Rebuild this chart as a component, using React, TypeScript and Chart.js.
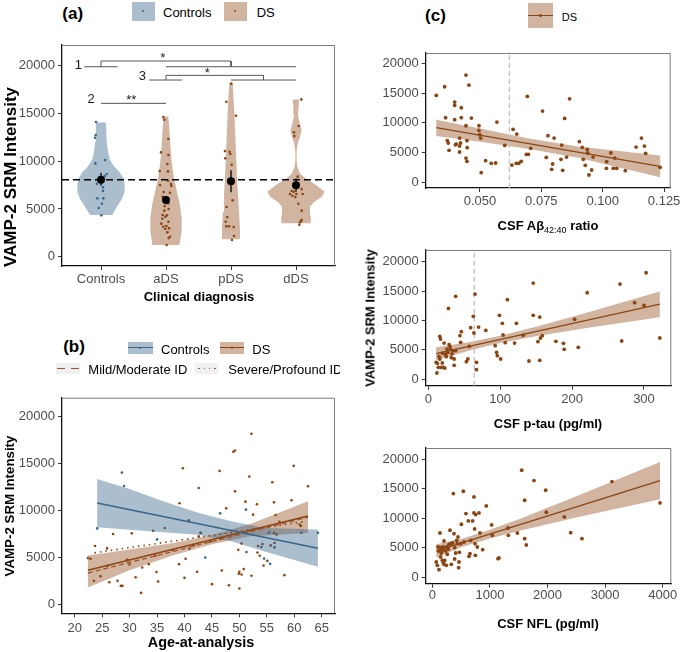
import React, { useEffect, useRef } from 'react';
import { Chart, registerables } from 'chart.js';
Chart.register(...registerables);

type P = [number, number];
const FONT = "'Liberation Sans', Arial, Helvetica, sans-serif";
const BLUE = '#36648B';
const BROWN = '#8B4513';
const BLUE_FILL = 'rgba(54,100,139,0.42)';
const BROWN_FILL = 'rgba(139,69,19,0.40)';

// ---------------- data ----------------
const DIAGNOSIS = ['Controls', 'aDS', 'pDS', 'dDS'];
const VAMP_TICKS = [0, 5000, 10000, 15000, 20000];
const CONTROL_REFERENCE = 8060;

// panel (a) jittered points [group position, intensity]
const A_CONTROLS: P[] = [[0.923,14100],[0.918,12740],[0.908,12460],[0.913,9770],[1.062,10120],[1.087,8660],[1.056,8450],[0.938,7640],[1.031,7260],[1.031,6880],[0.944,6110],[1.036,6110],[0.964,5100],[1.005,4330],[1.015,5550],[0.985,7850]];
const A_ADS: P[] = [[1.959,14620],[1.974,14340],[2.036,12320],[1.923,10920],[2.036,10640],[2.021,9700],[1.903,8970],[2.031,8930],[2.031,7960],[2.077,7610],[1.908,7500],[2.082,7400],[1.964,6770],[2.062,6700],[1.949,6280],[2.01,6000],[2.036,5580],[1.979,5300],[2.041,4990],[1.974,4820],[1.949,4360],[2.015,4330],[1.99,4190],[1.944,3980],[2.036,3660],[1.928,3460],[2.005,3210],[1.959,3140],[1.99,2900],[2.046,2970],[2.021,2550],[2.062,2090],[2.041,1950],[2.01,1220]];
const A_PDS: P[] = [[3.004,18110],[2.928,16230],[3.077,14760],[2.907,11060],[2.979,10990],[2.989,10750],[2.912,10300],[3.01,9630],[3.025,5900],[2.933,5200],[2.943,4150],[2.918,3660],[2.928,3180],[2.969,3180],[3.041,3110],[3.046,2160],[3.015,1750]];
const A_DDS: P[] = [[4.082,16470],[4.041,13680],[3.969,13020],[3.974,12630],[4.026,8380],[4.087,7080],[3.964,6810],[3.933,6880],[3.908,6560],[4.005,6560],[4.103,6560],[3.944,6390],[3.99,6250],[4.036,5550],[4.087,4820],[4.087,3840],[4.077,3730],[4.062,3600],[4.051,3350]];

// violin outlines [intensity, half width in group units], top to bottom
const VIOLIN_CONTROLS: P[] = [[14065,0.077],[13088,0.082],[12040,0.092],[10994,0.108],[10121,0.138],[9423,0.205],[8900,0.282],[8202,0.344],[7503,0.364],[6806,0.364],[6108,0.328],[5410,0.262],[4712,0.2],[4362,0.169]];
const VIOLIN_ADS: P[] = [[14690,0.036],[13437,0.051],[11692,0.067],[9947,0.087],[8202,0.123],[6806,0.169],[5410,0.215],[4014,0.241],[2618,0.241],[1571,0.215],[1222,0.205]];
const VIOLIN_PDS: P[] = [[18253,0.026],[16927,0.036],[15182,0.051],[11692,0.072],[8202,0.092],[6457,0.108],[4712,0.123],[2967,0.138],[1815,0.138]];
const VIOLIN_DDS: P[] = [[16473,0.051],[15705,0.041],[14833,0.031],[13960,0.056],[13262,0.087],[12564,0.062],[11866,0.026],[10994,0.01],[10121,0.01],[9423,0.021],[8725,0.062],[8202,0.144],[7503,0.308],[6806,0.441],[6282,0.4],[5759,0.282],[5235,0.215],[4537,0.215],[4014,0.231],[3490,0.221]];

// group means with error bars
const MEAN_POS = [1, 2, 3, 4];
const MEAN_VAL = [8060, 5930, 7890, 7470];
const MEAN_LO = [7430, 5500, 6740, 6800];
const MEAN_HI = [8790, 6350, 9040, 8200];

// significance brackets
const BRACKETS: P[][] = [
  [[0.743,19890],[1.256,19890]],
  [[2,19890],[4,19890]],
  [[1,19890],[1,20490],[3,20490],[3,19890]],
  [[1.743,18500],[2.246,18500]],
  [[3,18500],[4,18500]],
  [[2,18500],[2,18990],[3.5,18990],[3.5,18500]],
  [[1,16060],[2,16060]],
];
const SIG_TEXT = ['1', '2', '3', '*', '*', '**'];
const SIG_X = [0.651, 0.849, 1.635, 1.95, 2.635, 1.466];
const SIG_Y = [20000, 16510, 18920, 20800, 19230, 16400];

// panel (b) [age, intensity]
const AGE_TICKS = [20, 25, 30, 35, 40, 45, 50, 55, 60, 65];
const B_CONTROLS: P[] = [[28.6,14030],[29.0,12610],[42.6,12400],[24.1,8100],[35.0,6930],[42.9,7640],[51.2,10090],[46.5,9700],[61.3,7640],[64.3,7640],[55.4,7670],[54.0,6110],[56.4,6080],[51.3,5580],[54.5,4900],[55.6,4330],[43.8,5010]];
const B_DS: P[] = [[39.7,14500],[39.1,10770],[40.8,8950],[27.0,7500],[30.4,7570],[34.3,7850],[36.4,8140],[42.6,7250],[23.7,6220],[25.9,5970],[22.4,4940],[22.9,4870],[26.0,4120],[29.7,4730],[30.0,4260],[33.5,4300],[32.3,3940],[39.0,4300],[40.2,4870],[23.5,2520],[24.7,3020],[26.3,2380],[27.8,2520],[28.4,1990],[28.7,1990],[31.1,2910],[32.1,1240],[34.9,3450],[35.2,2450],[40.0,2840],[42.3,3480],[40.9,5930],
  [52.2,18160],[48.9,16240],[49.2,16380],[46.4,14210],[51.8,13610],[59.9,14750],[62.5,12580],[49.2,12040],[56.0,13000],[51.1,10940],[53.2,10660],[56.3,10870],[59.5,11090],[47.6,10230],[52.5,9560],[56.6,9520],[57.3,8810],[61.2,8350],[56.3,7600],[56.8,7460],[43.0,7600],[50.4,6500],[54.2,6430],[53.4,6220],[55.7,6290],[56.4,6540],[49.8,5830],[53.3,5540],[53.7,5190],[55.1,4650],[54.4,4160],[46.8,3620],[50.8,3770],[50.0,3480],[49.9,3270],[50.4,3200],[52.2,3060],[58.2,3130],[45.0,2170],[48.1,2060],[50.0,1710],
  [29.5,4750],[34.7,5200],[37.8,5800],[41.7,6300],[44.7,6700],[46.5,7000],[61.0,8500]];
const B_FIT_CONTROLS: P[] = [[24.1,10800],[64.3,5990]];
const B_BAND_CONTROLS_X = [24.1, 30, 36, 42.5, 48.5, 54.6, 64.3];
const B_BAND_CONTROLS_HI = [13360, 12280, 11000, 9750, 8850, 8140, 7990];
const B_BAND_CONTROLS_LO = [8210, 7960, 7700, 7430, 6720, 5650, 4010];
const B_FIT_DS: P[] = [[22.4,3650],[62.5,9420]];
const B_BAND_DS_X = [22.4, 30, 38, 45, 52, 62.5];
const B_BAND_DS_HI = [5220, 5850, 6550, 7400, 8560, 10980];
const B_BAND_DS_LO = [1810, 3640, 5240, 6400, 7260, 7600];
const B_FIT_MILD: P[] = [[22.4,3350],[62.5,9300]];
const B_FIT_SEVERE: P[] = [[23.6,5500],[62.2,8850]];

// panel (c) [biomarker, intensity]
const ABETA_TICKS = [0.05, 0.075, 0.1, 0.125];
const ABETA_CUTOFF = 0.062;
const C_ABETA: P[] = [[0.0322,14640],[0.0356,16100],[0.036,10870],[0.0367,6980],[0.0371,6590],[0.0374,5350],[0.0397,13510],[0.0397,12950],[0.0397,10530],[0.04,6300],[0.0404,6420],[0.0417,7430],[0.0417,6080],[0.0417,5070],[0.0424,12550],[0.0424,10870],[0.0421,6590],[0.0443,18070],[0.0443,9510],[0.0447,6980],[0.0448,5800],[0.0443,4050],[0.0447,3490],[0.0455,16380],[0.0465,10810],[0.0496,9510],[0.0496,8720],[0.0499,7990],[0.0503,7430],[0.0505,1580],[0.0523,3600],[0.0546,3150],[0.0564,3210],[0.0569,10130],[0.0601,6190],[0.063,2870],[0.0635,8900],[0.065,8100],[0.0648,3150],[0.0658,3150],[0.0668,3490],[0.0689,4670],[0.0697,4670],[0.0693,14470],[0.0707,5690],[0.0755,11990],[0.077,4160],[0.0777,7830],[0.0792,2140],[0.0796,3040],[0.0802,7430],[0.083,3830],[0.0833,6250],[0.0837,1970],[0.0845,10750],[0.0853,4220],[0.0865,14070],[0.0905,6810],[0.0917,5860],[0.0921,3830],[0.0929,2820],[0.0937,5520],[0.0939,4900],[0.0944,1180],[0.0955,2030],[0.0961,4220],[0.1015,2310],[0.1016,3430],[0.1033,4900],[0.1043,2310],[0.1049,4050],[0.1057,2310],[0.1092,1910],[0.1136,5910],[0.1158,7430],[0.117,6080],[0.1175,4840],[0.1234,2480]];
const C_FIT_ABETA: P[] = [[0.0322,9180],[0.1234,2650]];
const C_BAND_ABETA_X = [0.0322, 0.05, 0.07, 0.09, 0.1234];
const C_BAND_ABETA_HI = [10530, 9050, 7350, 6000, 4500];
const C_BAND_ABETA_LO = [7770, 6800, 5600, 4080, 790];

const PTAU_TICKS = [0, 100, 200, 300];
const PTAU_CUTOFF = 64;
const C_PTAU: P[] = [[11,2840],[12,1020],[12.5,2670],[14,1990],[16,7270],[17,6820],[15,3860],[16,3410],[18,1990],[19.5,2730],[21,1990],[22,6130],[23,1870],[24,4200],[26,5110],[27,4540],[28,12040],[29,5850],[30,5570],[31,5110],[32,3640],[34,4830],[36,3410],[36,2330],[38,14090],[38,4830],[44,7380],[45,6250],[46,8070],[53,2950],[55,3410],[57,5570],[59,8750],[62.6,10680],[63.5,7840],[65,14480],[67,2840],[67,1590],[70,8860],[80,8290],[93,5680],[95,4540],[96,3980],[99,10850],[100.6,3410],[103,9490],[104,7500],[107,6190],[110,13520],[120,6130],[122.5,9490],[132,7440],[140,3070],[146,16360],[146,10850],[152.5,6360],[155,10560],[155,3180],[156,6990],[158.5,7380],[177.5,6420],[188,6080],[189,5060],[203.5,10170],[208.6,5400],[221,14710],[266.6,16190],[269,6480],[287,13010],[300,12550],[303,18120],[322,6990],[20,4400],[25,3800],[33,4300]];
const C_FIT_PTAU: P[] = [[11,4320],[322,12780]];
const C_BAND_PTAU_X = [11, 60, 100, 150, 220, 322];
const C_BAND_PTAU_HI = [5400, 6350, 7360, 8900, 11300, 14940];
const C_BAND_PTAU_LO = [3180, 4950, 6120, 7300, 8700, 10510];

const NFL_TICKS = [0, 1000, 2000, 3000, 4000];
const C_NFL: P[] = [[69,2550],[87,1980],[116,1250],[133,7480],[145,4990],[156,4080],[174,4540],[185,5100],[203,6120],[214,2830],[203,2150],[243,1980],[260,3860],[278,4760],[307,7940],[330,2150],[353,5780],[365,14180],[376,7370],[388,3060],[422,6240],[446,6800],[457,1590],[463,2550],[469,4200],[492,5670],[504,8960],[538,14570],[550,5950],[584,10770],[625,9530],[637,3520],[654,3970],[666,6240],[700,9530],[723,13610],[723,10890],[735,8170],[741,5670],[747,3690],[752,10600],[781,5100],[810,10890],[827,7480],[874,4650],[937,12080],[1030,8850],[1042,7090],[1140,3120],[1157,3230],[1314,8330],[1320,7090],[1476,7480],[1551,18140],[1603,6520],[1603,13040],[1632,5440],[1765,16390],[1968,14740],[1979,11000],[2292,10210],[2402,7540],[2598,6520],[3119,16220],[3953,12590],[98,5100],[110,4420],[145,3400],[174,2830],[191,2490],[231,4420],[249,5100],[289,5560],[318,5670],[388,4990],[405,4080],[434,5670]];
const C_FIT_NFL: P[] = [[69,4420],[3953,16390]];
const C_BAND_NFL_X = [69, 500, 1000, 1500, 2500, 3953];
const C_BAND_NFL_HI = [5560, 6450, 8040, 9830, 13710, 19560];
const C_BAND_NFL_LO = [3290, 5050, 6540, 7830, 10110, 13210];

// ---------------- helpers ----------------
const pts = (d: P[]) => d.map(([x, y]) => ({ x, y }));
const pointsDs = (d: P[], color: string, r: number, order: number) => ({
  data: pts(d), showLine: false, pointRadius: r, pointHoverRadius: r,
  pointBackgroundColor: color, pointBorderWidth: 0, order,
});
const lineDs = (d: P[], color: string, width: number, order: number, dash: number[] = []) => ({
  data: pts(d), showLine: true, borderColor: color, borderWidth: width, borderDash: dash,
  pointRadius: 0, pointHoverRadius: 0, fill: false, order,
});
const shapeDs = (d: { x: number; y: number }[], color: string, order: number) => ({
  data: d, showLine: true, borderColor: 'rgba(0,0,0,0)', borderWidth: 0, pointRadius: 0,
  pointHoverRadius: 0, fill: 'shape', backgroundColor: color, order,
});
const violin = (center: number, profile: P[]) => [
  ...profile.map(([v, h]) => ({ x: center + h, y: v })),
  ...profile.slice().reverse().map(([v, h]) => ({ x: center - h, y: v })),
];
const band = (xs: number[], hi: number[], lo: number[]) => [
  ...xs.map((x, i) => ({ x, y: hi[i] })),
  ...xs.map((x, i) => ({ x, y: lo[i] })).reverse(),
];

const framePlugin = {
  id: 'frame',
  afterDatasetsDraw(chart: any) {
    const { ctx, chartArea: a } = chart;
    ctx.save();
    ctx.strokeStyle = '#7a7a7a';
    ctx.lineWidth = 1;
    ctx.beginPath();
    ctx.moveTo(a.left, a.top + 0.5);
    ctx.lineTo(a.right - 0.5, a.top + 0.5);
    ctx.lineTo(a.right - 0.5, a.bottom);
    ctx.stroke();
    ctx.restore();
  },
};

const sigPlugin = {
  id: 'sigText',
  afterDatasetsDraw(chart: any) {
    const { ctx, scales } = chart;
    ctx.save();
    ctx.fillStyle = '#1a1a1a';
    ctx.font = `13px ${FONT}`;
    ctx.textAlign = 'center';
    ctx.textBaseline = 'middle';
    SIG_TEXT.forEach((t, i) => {
      ctx.fillText(t, scales.x.getPixelForValue(SIG_X[i]), scales.y.getPixelForValue(SIG_Y[i]));
    });
    ctx.restore();
  },
};

function makeConfig(o: any) {
  const tickFont = { family: FONT, size: 13 };
  return {
    type: 'scatter',
    data: { datasets: o.datasets },
    options: {
      responsive: false, animation: false, devicePixelRatio: 1, events: [],
      layout: { padding: o.padding },
      plugins: { legend: { display: false }, tooltip: { enabled: false } },
      scales: {
        x: {
          type: 'linear', position: 'bottom', min: o.xMin, max: o.xMax,
          afterBuildTicks: (s: any) => { s.ticks = o.xTicks.map((v: number) => ({ value: v })); },
          afterFit: (s: any) => { s.height = o.xH; },
          grid: { display: true, drawOnChartArea: false, drawTicks: true, tickLength: 4, tickColor: '#333', tickWidth: 1 },
          border: { display: true, color: '#111', width: 1.3 },
          ticks: { color: '#4d4d4d', font: tickFont, padding: o.xPad, maxRotation: 0, minRotation: 0, autoSkip: false, callback: o.xLabel },
        },
        y: {
          type: 'linear', position: 'left', min: o.yMin, max: o.yMax,
          afterBuildTicks: (s: any) => { s.ticks = VAMP_TICKS.map((v) => ({ value: v })); },
          afterFit: (s: any) => { s.width = o.yW; },
          grid: { display: true, drawOnChartArea: false, drawTicks: true, tickLength: 4, tickColor: '#333', tickWidth: 1 },
          border: { display: true, color: '#111', width: 1.3 },
          ticks: { color: '#4d4d4d', font: tickFont, padding: 3, autoSkip: false, callback: (v: number) => String(v) },
        },
      },
    },
    plugins: [framePlugin, ...(o.plugins || [])],
  };
}

function ChartBox({ x, y, w, h, build }: any) {
  const ref = useRef<HTMLCanvasElement>(null);
  useEffect(() => {
    const chart = new Chart(ref.current as any, build() as any);
    return () => chart.destroy();
  }, []);
  return <canvas ref={ref} width={w} height={h} style={{ position: 'absolute', left: x, top: y, width: w, height: h }} />;
}

// ---------------- chart builders ----------------
const A_XMIN = 0.4, A_XMAX = 4.6;
const buildA = () => makeConfig({
  padding: { top: 15, right: 5, left: 0, bottom: 0 }, xH: 34, yW: 62, xPad: 1.5,
  xMin: A_XMIN, xMax: A_XMAX, yMin: -974, yMax: 22168, xTicks: [1, 2, 3, 4],
  xLabel: (v: number) => DIAGNOSIS[Math.round(v) - 1],
  plugins: [sigPlugin],
  datasets: [
    ...BRACKETS.map((b) => lineDs(b, '#555', 1, 0)),
    pointsDs(MEAN_POS.map((p, i) => [p, MEAN_VAL[i]] as P), '#000', 4, 1),
    ...MEAN_POS.map((p, i) => lineDs([[p, MEAN_LO[i]], [p, MEAN_HI[i]]], '#000', 1.3, 2)),
    lineDs([[A_XMIN, CONTROL_REFERENCE], [A_XMAX, CONTROL_REFERENCE]], '#000', 1.3, 3, [7, 4]),
    pointsDs(A_CONTROLS, BLUE, 1.3, 4),
    pointsDs(A_ADS, BROWN, 1.3, 4),
    pointsDs(A_PDS, BROWN, 1.3, 4),
    pointsDs(A_DDS, BROWN, 1.3, 4),
    shapeDs(violin(1, VIOLIN_CONTROLS), BLUE_FILL, 6),
    shapeDs(violin(2, VIOLIN_ADS), BROWN_FILL, 6),
    shapeDs(violin(3, VIOLIN_PDS), BROWN_FILL, 6),
    shapeDs(violin(4, VIOLIN_DDS), BROWN_FILL, 6),
  ],
});

const buildB = () => makeConfig({
  padding: { top: 12.7, right: 5, left: 0, bottom: 0 }, xH: 38.7, yW: 62, xPad: 3,
  xMin: 17.69, xMax: 67.42, yMin: -928, yMax: 21994, xTicks: AGE_TICKS,
  xLabel: (v: number) => String(v),
  datasets: [
    lineDs(B_FIT_CONTROLS, BLUE, 1.4, 0),
    lineDs(B_FIT_DS, BROWN, 1.4, 0),
    lineDs(B_FIT_MILD, '#A0522D', 1.3, 1, [5, 3]),
    lineDs(B_FIT_SEVERE, BROWN, 1.6, 1, [1.5, 4]),
    shapeDs(band(B_BAND_CONTROLS_X, B_BAND_CONTROLS_HI, B_BAND_CONTROLS_LO), BLUE_FILL, 5),
    shapeDs(band(B_BAND_DS_X, B_BAND_DS_HI, B_BAND_DS_LO), BROWN_FILL, 6),
    pointsDs(B_CONTROLS, BLUE, 1.3, 8),
    pointsDs(B_DS, BROWN, 1.3, 8),
  ],
});

const buildC1 = () => makeConfig({
  padding: { top: 13, right: 14.3, left: 0, bottom: 0 }, xH: 32, yW: 80.7, xPad: 1.5,
  xMin: 0.0279, xMax: 0.1277, yMin: -1014, yMax: 21809, xTicks: ABETA_TICKS,
  xLabel: (v: number) => v.toFixed(3),
  datasets: [
    lineDs(C_FIT_ABETA, BROWN, 1.3, 0),
    pointsDs(C_ABETA, BROWN, 1.9, 1),
    lineDs([[ABETA_CUTOFF, -1014], [ABETA_CUTOFF, 21809]], '#c0c0c0', 1.3, 2, [5, 3]),
    shapeDs(band(C_BAND_ABETA_X, C_BAND_ABETA_HI, C_BAND_ABETA_LO), BROWN_FILL, 5),
  ],
});

const buildC2 = () => makeConfig({
  padding: { top: 14, right: 13.7, left: 0, bottom: 0 }, xH: 30.3, yW: 80.7, xPad: 1.5,
  xMin: -3.6, xMax: 338, yMin: -1142, yMax: 21995, xTicks: PTAU_TICKS,
  xLabel: (v: number) => String(v),
  datasets: [
    lineDs(C_FIT_PTAU, BROWN, 1.3, 0),
    pointsDs(C_PTAU, BROWN, 1.9, 1),
    lineDs([[PTAU_CUTOFF, -1142], [PTAU_CUTOFF, 21995]], '#c0c0c0', 1.3, 2, [5, 3]),
    shapeDs(band(C_BAND_PTAU_X, C_BAND_PTAU_HI, C_BAND_PTAU_LO), BROWN_FILL, 5),
  ],
});

const buildC3 = () => makeConfig({
  padding: { top: 12, right: 13.7, left: 0, bottom: 0 }, xH: 32.3, yW: 80.7, xPad: 0,
  xMin: -115, xMax: 4149, yMin: -1138, yMax: 21920, xTicks: NFL_TICKS,
  xLabel: (v: number) => String(v),
  datasets: [
    lineDs(C_FIT_NFL, BROWN, 1.3, 0),
    pointsDs(C_NFL, BROWN, 1.9, 1),
    shapeDs(band(C_BAND_NFL_X, C_BAND_NFL_HI, C_BAND_NFL_LO), BROWN_FILL, 5),
  ],
});

// ---------------- text & legend helpers ----------------
function Txt({ x, y, size = 13, bold = false, rotate = false, align = 'center', color = '#000', children }: any) {
  const tx = align === 'left' ? '0' : '-50%';
  return (
    <div style={{
      position: 'absolute', left: x, top: y, whiteSpace: 'nowrap', lineHeight: 1,
      fontFamily: FONT, fontSize: size, fontWeight: bold ? 700 : 400, color,
      transform: `translate(${tx},-50%)${rotate ? ' rotate(-90deg)' : ''}`,
    }}>{children}</div>
  );
}

function Key({ x, y, w, h, bg, lineColor, dot, dotR = 1, children }: any) {
  return (
    <div style={{ position: 'absolute', left: x, top: y, width: w, height: h, background: bg }}>
      {lineColor && <div style={{ position: 'absolute', left: 0, width: w, top: h / 2 - 0.6, height: 1.2, background: lineColor }} />}
      {dot && <div style={{ position: 'absolute', left: w / 2 - dotR, top: h / 2 - dotR, width: dotR * 2, height: dotR * 2, borderRadius: '50%', background: dot }} />}
      {children}
    </div>
  );
}

export default function App() {
  return (
    <div style={{ position: 'absolute', left: 0, top: 0, width: 685, height: 652, background: '#fff', overflow: 'hidden' }}>
      <ChartBox x={0} y={30} w={340} h={270} build={buildA} />
      <ChartBox x={0} y={385} w={340} h={267} build={buildB} />
      <ChartBox x={345} y={40} w={340} h={180} build={buildC1} />
      <ChartBox x={345} y={236} w={340} h={180} build={buildC2} />
      <ChartBox x={345} y={436} w={340} h={180} build={buildC3} />

      {/* panel (a) legend and titles */}
      <Txt x={72.7} y={13} size={17} bold>(a)</Txt>
      <Key x={131.7} y={1.7} w={23.3} h={19} bg={BLUE_FILL} dot={BLUE} dotR={1} />
      <Txt x={163} y={12.3} align="left">Controls</Txt>
      <Key x={224} y={1.7} w={22.7} h={19} bg={BROWN_FILL} dot={BROWN} dotR={1} />
      <Txt x={256.7} y={12.3} align="left">DS</Txt>
      <Txt x={9.5} y={177} size={17} bold rotate>VAMP-2 SRM Intensity</Txt>
      <Txt x={199} y={296} bold>Clinical diagnosis</Txt>

      {/* panel (b) legend and titles */}
      <div style={{ position: 'absolute', left: 0, top: 330, width: 340, height: 50, overflow: 'hidden' }}>
        <Txt x={74} y={15.5} size={17} bold>(b)</Txt>
        <Key x={128.3} y={11.7} w={24.4} h={12.3} bg={BLUE_FILL} lineColor={BLUE} dot={BLUE} dotR={1} />
        <Txt x={161} y={19} align="left">Controls</Txt>
        <Key x={220} y={11.7} w={24.3} h={12.3} bg={BROWN_FILL} lineColor={BROWN} dot={BROWN} dotR={1} />
        <Txt x={252.3} y={19} align="left">DS</Txt>
        <Key x={56} y={33.3} w={24} h={10.7} bg="#f0f0f0">
          <div style={{ position: 'absolute', left: 1.3, width: 7.7, top: 4.7, height: 1.3, background: '#A0522D' }} />
          <div style={{ position: 'absolute', left: 15, width: 7.7, top: 4.7, height: 1.3, background: '#A0522D' }} />
        </Key>
        <Txt x={88.3} y={39} align="left">Mild/Moderate ID</Txt>
        <Key x={195} y={33.3} w={23.3} h={10.7} bg="#f0f0f0">
          {[3.3, 8.6, 13.6, 19.3].map((d) => (
            <div key={d} style={{ position: 'absolute', left: d, width: 1.6, top: 4.6, height: 1.6, borderRadius: '50%', background: BROWN }} />
          ))}
        </Key>
        <Txt x={228.3} y={39} align="left">Severe/Profound ID</Txt>
      </div>
      <Txt x={9.5} y={506} size={13.3} bold rotate>VAMP-2 SRM Intensity</Txt>
      <Txt x={201} y={641.7} size={14.4} bold>Age-at-analysis</Txt>

      {/* panel (c) legend and titles */}
      <Txt x={435.5} y={15} size={17} bold>(c)</Txt>
      <Key x={528.3} y={3.3} w={25} h={25} bg={BROWN_FILL} lineColor={BROWN} dot={BROWN} dotR={1.6} />
      <Txt x={561.7} y={17.3} size={11} align="left">DS</Txt>
      <Txt x={548} y={227.3} bold>CSF Aβ<sub style={{ fontSize: 9, fontWeight: 400 }}>42:40</sub> ratio</Txt>
      <Txt x={370} y={317.5} bold rotate>VAMP-2 SRM Intensity</Txt>
      <Txt x={548} y={423} bold>CSF p-tau (pg/ml)</Txt>
      <Txt x={548} y={623.3} bold>CSF NFL (pg/ml)</Txt>
    </div>
  );
}
